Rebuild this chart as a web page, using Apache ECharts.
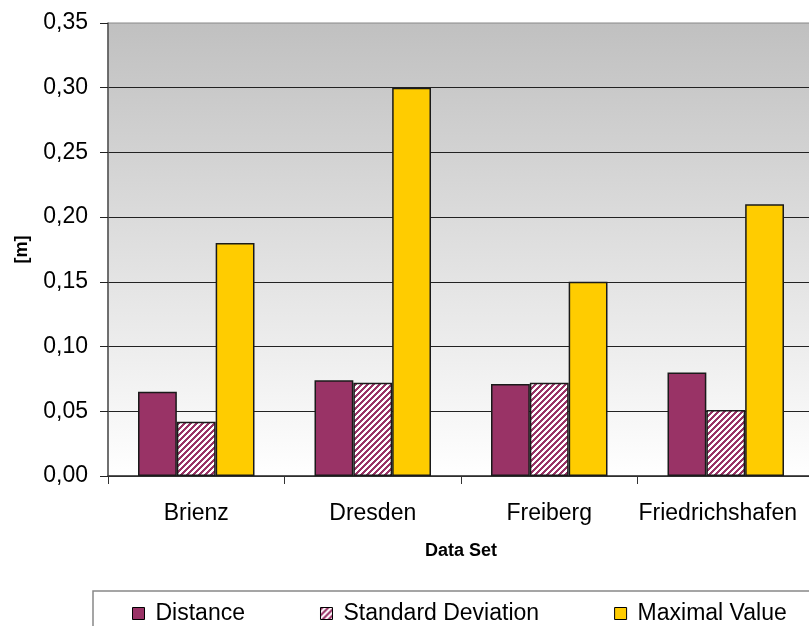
<!DOCTYPE html>
<html>
<head>
<meta charset="utf-8">
<script src="https://cdn.jsdelivr.net/npm/echarts@6/dist/echarts.min.js"></script>
<style>
  html, body { margin: 0; padding: 0; background: #fff; }
  #chart { width: 809px; height: 626px; }
</style>
</head>
<body>
<div id="chart"></div>
<script>
// Data sets and measured values in metres
const categories = ['Brienz', 'Dresden', 'Freiberg', 'Friedrichshafen'];
const distance = [0.065, 0.074, 0.071, 0.080];
const standardDeviation = [0.042, 0.072, 0.072, 0.051];
const maximalValue = [0.18, 0.30, 0.15, 0.21];
const seriesNames = ['Distance', 'Standard Deviation', 'Maximal Value'];

// Diagonal purple/white hatching used for the standard deviation bars
function makeHatch() {
  const size = 6;
  const c = document.createElement('canvas');
  c.width = size; c.height = size;
  const ctx = c.getContext('2d');
  for (let x = 0; x < size; x++) {
    for (let y = 0; y < size; y++) {
      ctx.fillStyle = ((x + y) % size) < 3 ? '#993366' : '#ffffff';
      ctx.fillRect(x, y, 1, 1);
    }
  }
  return c;
}
const hatch = { image: makeHatch(), repeat: 'repeat' };

const FONT = 'Liberation Sans, Arial, sans-serif';
const barBorder = { borderColor: '#1a1a1a', borderWidth: 1.5 };

// The last category label is nudged left so it stays inside the canvas
const categoryData = categories.map((name, i) =>
  i === categories.length - 1
    ? { value: name, textStyle: { padding: [0, 16, 0, 0] } }
    : name
);

const chart = echarts.init(document.getElementById('chart'), null, { renderer: 'canvas' });
chart.setOption({
  animation: false,
  textStyle: { fontFamily: FONT, color: '#000' },
  grid: {
    left: 108, top: 23, bottom: 150, right: -5,
    outerBoundsMode: 'none',
    containLabel: false,
    show: true,
    borderColor: '#888',
    borderWidth: 1,
    backgroundColor: {
      type: 'linear', x: 0, y: 0, x2: 0, y2: 1,
      colorStops: [
        { offset: 0, color: '#c0c0c0' },
        { offset: 1, color: '#ffffff' }
      ]
    }
  },
  legend: {
    data: seriesNames,
    left: 127, top: 597,
    icon: 'rect',
    itemWidth: 12, itemHeight: 12,
    itemGap: 75,
    itemStyle: { borderColor: '#000', borderWidth: 1 },
    textStyle: { fontFamily: FONT, fontSize: 23, color: '#000', padding: [0, 0, 0, 6] }
  },
  graphic: [{
    type: 'rect',
    shape: { x: 93, y: 591, width: 740, height: 60 },
    style: { fill: 'none', stroke: '#888', lineWidth: 1.5 },
    z: 0
  }],
  xAxis: {
    type: 'category',
    data: categoryData,
    name: 'Data Set',
    nameLocation: 'middle',
    nameGap: 66,
    nameTextStyle: { fontFamily: FONT, fontSize: 18, fontWeight: 'bold', color: '#000' },
    axisLine: { lineStyle: { color: '#333', width: 1.5 } },
    axisTick: { show: true, length: 8, lineStyle: { color: '#333' } },
    axisLabel: { fontFamily: FONT, fontSize: 23, color: '#000', margin: 26, interval: 0, hideOverlap: false }
  },
  yAxis: {
    type: 'value',
    min: 0, max: 0.35, interval: 0.05,
    name: '[m]',
    nameLocation: 'middle',
    nameGap: 77,
    nameRotate: 90,
    nameTextStyle: { fontFamily: FONT, fontSize: 18, fontWeight: 'bold', color: '#000' },
    axisLine: { show: true, lineStyle: { color: '#555', width: 1.5 } },
    axisTick: { show: true, length: 8, lineStyle: { color: '#222' } },
    axisLabel: {
      fontFamily: FONT, fontSize: 23, color: '#000', margin: 20,
      formatter: v => v.toFixed(2).replace('.', ',')
    },
    splitLine: { show: true, showMaxLine: false, lineStyle: { color: '#222', width: 1 } }
  },
  series: [
    {
      name: seriesNames[0], type: 'bar', data: distance,
      barGap: '0%', barCategoryGap: '34%',
      itemStyle: Object.assign({ color: '#993366' }, barBorder)
    },
    {
      name: seriesNames[1], type: 'bar', data: standardDeviation,
      itemStyle: Object.assign({ color: hatch }, barBorder)
    },
    {
      name: seriesNames[2], type: 'bar', data: maximalValue,
      itemStyle: Object.assign({ color: '#ffcc00' }, barBorder)
    }
  ]
});
</script>
</body>
</html>
